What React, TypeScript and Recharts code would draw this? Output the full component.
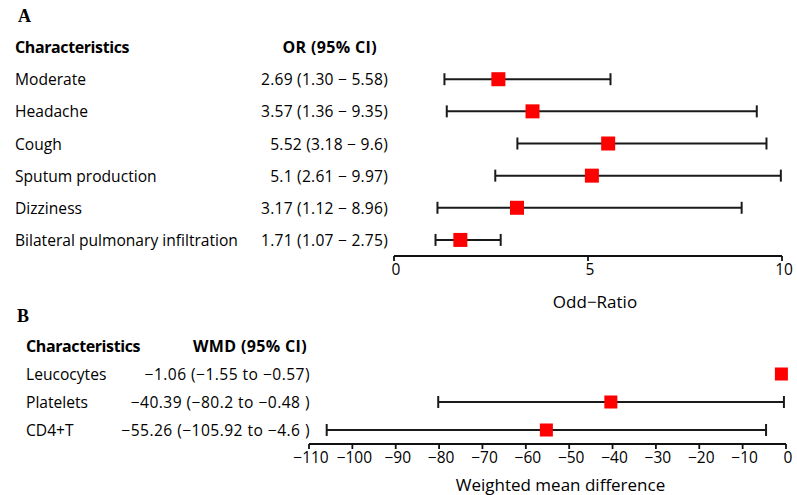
import React from 'react';
import { ScatterChart, Scatter, XAxis, YAxis, ErrorBar } from 'recharts';

// Panel A data
const aNames = ['Moderate', 'Headache', 'Cough', 'Sputum production', 'Dizziness', 'Bilateral pulmonary infiltration'];
const aOR = [2.69, 3.57, 5.52, 5.1, 3.17, 1.71];
const aLo = [1.30, 1.36, 3.18, 2.61, 1.12, 1.07];
const aHi = [5.58, 9.35, 9.6, 9.97, 8.96, 2.75];
const aText = ['2.69 (1.30 \u2212 5.58)', '3.57 (1.36 \u2212 9.35)', '5.52 (3.18 \u2212 9.6)', '5.1 (2.61 \u2212 9.97)', '3.17 (1.12 \u2212 8.96)', '1.71 (1.07 \u2212 2.75)'];
const aTicks = [0, 5, 10];

// Panel B data
const bNames = ['Leucocytes', 'Platelets', 'CD4+T'];
const bWMD = [-1.06, -40.39, -55.26];
const bLo = [-1.55, -80.2, -105.92];
const bHi = [-0.57, -0.48, -4.6];
const bText = ['\u22121.06 (\u22121.55 to \u22120.57)', '\u221240.39 (\u221280.2 to \u22120.48 )', '\u221255.26 (\u2212105.92 to \u22124.6 )'];
const bTicks = [-110, -100, -90, -80, -70, -60, -50, -40, -30, -20, -10, 0];

const FONT = '"Open Sans", "Noto Sans", sans-serif';
const FS = 15.6;

const rowsA = aNames.map((n, i) => ({ idx: i, v: aOR[i], err: [aOR[i] - aLo[i], aHi[i] - aOR[i]] }));
const rowsB = bNames.map((n, i) => ({ idx: i, v: bWMD[i], err: [bWMD[i] - bLo[i], bHi[i] - bWMD[i]] }));

const minus = (v: number) => (v < 0 ? '\u2212' + Math.abs(v) : String(v));

const makeTick = (
  names: string[],
  texts: string[],
  labelX: number,
  valueX: number,
  headerX: number,
  headerValue: string,
  valueSpacing: number
) => (props: any) => {
  const { y, payload } = props;
  const i = payload.value;
  if (i < 0) {
    return (
      <g>
        <text x={labelX} y={y} dominantBaseline="central" fontFamily={FONT} fontSize={16} fontWeight={700} letterSpacing={-0.4} fill="#000">
          Characteristics
        </text>
        <text x={headerX} y={y} dominantBaseline="central" textAnchor="end" fontFamily={FONT} fontSize={16} fontWeight={700} letterSpacing={0.35} fill="#000">
          {headerValue}
        </text>
      </g>
    );
  }
  return (
    <g>
      <text x={labelX} y={y} dominantBaseline="central" fontFamily={FONT} fontSize={FS} fill="#000">
        {names[i]}
      </text>
      <text x={valueX} y={y} dominantBaseline="central" textAnchor="end" fontFamily={FONT} fontSize={FS} letterSpacing={valueSpacing} fill="#000">
        {texts[i]}
      </text>
    </g>
  );
};

const square = (size: number) => (props: any) => (
  <rect x={props.cx - size / 2} y={props.cy - size / 2} width={size} height={size} fill="#ff0000" />
);

const axisStyle = { stroke: '#111', strokeWidth: 1.8 };
const tickStyle = { fontFamily: FONT, fontSize: 15.5, fill: '#000', dx: 2 };

export default function App() {
  return (
    <div style={{ position: 'absolute', left: 0, top: 0, width: 797, height: 495, background: '#fff' }}>
      <div style={{ position: 'absolute', left: 18, top: 6, fontFamily: '"Liberation Serif", serif', fontWeight: 700, fontSize: 18 }}>A</div>
      <div style={{ position: 'absolute', left: 17, top: 306, fontFamily: '"Liberation Serif", serif', fontWeight: 700, fontSize: 18 }}>B</div>
      <div style={{ position: 'absolute', left: 0, top: 0 }}>
        <ScatterChart width={797} height={320} margin={{ top: 31, right: 15, bottom: 0, left: 0 }}>
          <XAxis
            type="number"
            dataKey="v"
            domain={[0, 10]}
            ticks={aTicks}
            tickSize={5}
            tickMargin={3}
            axisLine={axisStyle}
            tickLine={axisStyle}
            tick={tickStyle}
            height={64}
            label={{ value: 'Odd\u2212Ratio', position: 'insideBottom', offset: 12, dx: 7, fontFamily: FONT, fontSize: 17, fill: '#000' }}
          />
          <YAxis
            type="number"
            dataKey="idx"
            domain={[-1.5, aNames.length - 0.5]}
            reversed
            ticks={[-1, 0, 1, 2, 3, 4, 5]}
            interval={0}
            width={394}
            axisLine={false}
            tickLine={false}
            tick={makeTick(aNames, aText, 15, 388, 377, 'OR (95% CI)', 0.23)}
          />
          <Scatter data={rowsA} shape={square(14)} isAnimationActive={false}>
            <ErrorBar dataKey="err" direction="x" width={6} stroke="#1a1a1a" strokeWidth={2} />
          </Scatter>
        </ScatterChart>
      </div>
      <div style={{ position: 'absolute', left: 0, top: 320 }}>
        <ScatterChart width={797} height={175} margin={{ top: 12, right: 11, bottom: 0, left: 0 }}>
          <XAxis
            type="number"
            dataKey="v"
            domain={[-110, 0]}
            ticks={bTicks}
            tickSize={5}
            tickMargin={3}
            axisLine={axisStyle}
            tickLine={axisStyle}
            tickFormatter={minus}
            tick={tickStyle}
            height={51}
            label={{ value: 'Weighted mean difference', position: 'insideBottom', offset: 4, dx: 13, fontFamily: FONT, fontSize: 17, fill: '#000' }}
          />
          <YAxis
            type="number"
            dataKey="idx"
            domain={[-1.5, bNames.length - 0.5]}
            reversed
            ticks={[-1, 0, 1, 2]}
            interval={0}
            width={309}
            axisLine={false}
            tickLine={false}
            tick={makeTick(bNames, bText, 26, 310, 307, 'WMD (95% CI)', 0.45)}
          />
          <Scatter data={rowsB} shape={square(13)} isAnimationActive={false}>
            <ErrorBar dataKey="err" direction="x" width={6} stroke="#1a1a1a" strokeWidth={2} />
          </Scatter>
        </ScatterChart>
      </div>
    </div>
  );
}
